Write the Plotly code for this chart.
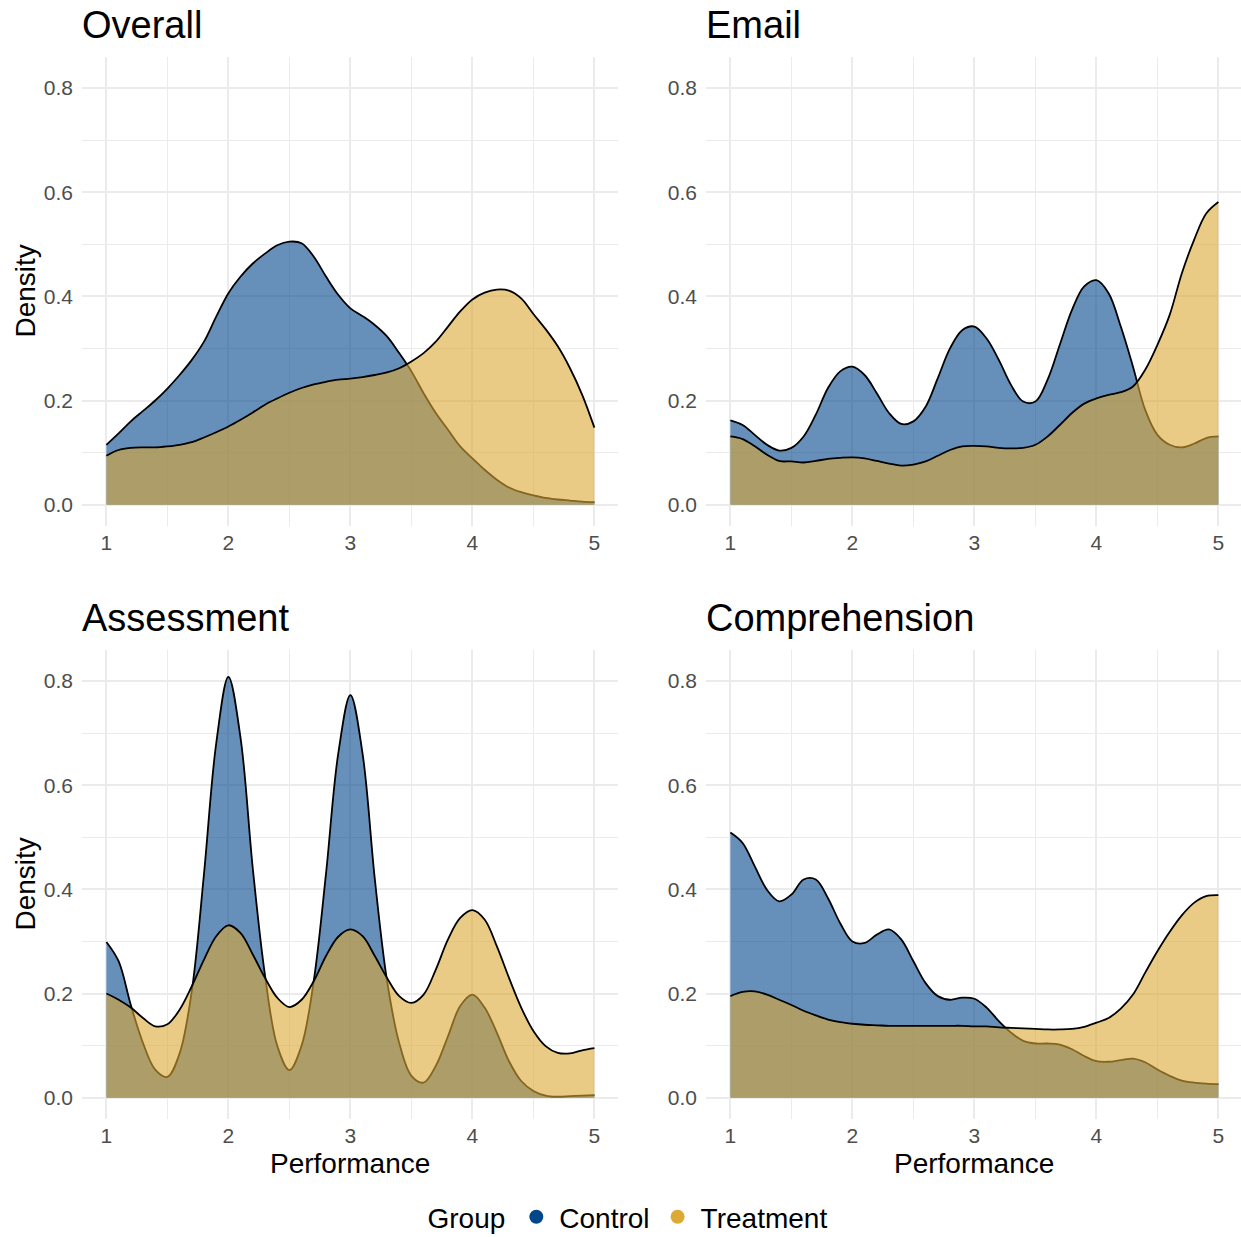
import plotly.graph_objects as go

# ---------------- data ----------------
performance = [1.0, 1.1, 1.2, 1.3, 1.4, 1.5, 1.6, 1.7, 1.8, 1.9,
               2.0, 2.1, 2.2, 2.3, 2.4, 2.5, 2.6, 2.7, 2.8, 2.9,
               3.0, 3.1, 3.2, 3.3, 3.4, 3.5, 3.6, 3.7, 3.8, 3.9,
               4.0, 4.1, 4.2, 4.3, 4.4, 4.5, 4.6, 4.7, 4.8, 4.9, 5.0]

overall_control = [0.115, 0.137, 0.160, 0.180, 0.200, 0.223, 0.249, 0.278, 0.313, 0.361,
                   0.406, 0.438, 0.463, 0.482, 0.498, 0.505, 0.502, 0.476, 0.438, 0.403,
                   0.377, 0.362, 0.345, 0.323, 0.291, 0.256, 0.214, 0.176, 0.144, 0.112,
                   0.089, 0.067, 0.048, 0.033, 0.024, 0.018, 0.013, 0.010, 0.008, 0.006, 0.005]
overall_treatment = [0.094, 0.105, 0.109, 0.110, 0.110, 0.112, 0.115, 0.120, 0.129, 0.139,
                     0.150, 0.163, 0.177, 0.192, 0.204, 0.215, 0.224, 0.231, 0.236, 0.240,
                     0.242, 0.245, 0.249, 0.254, 0.262, 0.275, 0.291, 0.313, 0.342, 0.371,
                     0.394, 0.407, 0.413, 0.411, 0.396, 0.366, 0.337, 0.304, 0.262, 0.211, 0.148]

email_control = [0.162, 0.153, 0.134, 0.115, 0.104, 0.109, 0.131, 0.173, 0.224, 0.256,
                 0.265, 0.249, 0.214, 0.176, 0.155, 0.160, 0.188, 0.243, 0.300, 0.335,
                 0.342, 0.319, 0.278, 0.230, 0.198, 0.198, 0.240, 0.307, 0.374, 0.419,
                 0.431, 0.406, 0.342, 0.265, 0.182, 0.134, 0.115, 0.110, 0.117, 0.128, 0.131]
email_treatment = [0.131, 0.126, 0.112, 0.096, 0.084, 0.083, 0.081, 0.084, 0.088, 0.090,
                   0.091, 0.089, 0.084, 0.079, 0.075, 0.077, 0.083, 0.094, 0.105, 0.112,
                   0.113, 0.112, 0.109, 0.108, 0.109, 0.115, 0.131, 0.153, 0.176, 0.194,
                   0.204, 0.211, 0.216, 0.227, 0.259, 0.307, 0.364, 0.444, 0.508, 0.559, 0.581]

assessment_control = [0.299, 0.262, 0.178, 0.105, 0.054, 0.040, 0.085, 0.205, 0.430, 0.680,
                      0.808, 0.690, 0.440, 0.235, 0.100, 0.053, 0.100, 0.225, 0.430, 0.660,
                      0.773, 0.660, 0.420, 0.225, 0.105, 0.042, 0.029, 0.061, 0.118, 0.176,
                      0.198, 0.173, 0.125, 0.070, 0.032, 0.013, 0.004, 0.002, 0.003, 0.004, 0.005]
assessment_treatment = [0.200, 0.188, 0.173, 0.153, 0.137, 0.141, 0.169, 0.214, 0.265, 0.310,
                        0.331, 0.316, 0.275, 0.230, 0.192, 0.174, 0.188, 0.224, 0.272, 0.309,
                        0.323, 0.310, 0.272, 0.230, 0.195, 0.182, 0.198, 0.246, 0.304, 0.345,
                        0.360, 0.342, 0.291, 0.230, 0.173, 0.128, 0.099, 0.086, 0.085, 0.091, 0.095]

comprehension_control = [0.509, 0.489, 0.444, 0.399, 0.377, 0.390, 0.419, 0.419, 0.383, 0.335,
                         0.300, 0.297, 0.313, 0.323, 0.304, 0.262, 0.220, 0.195, 0.188, 0.192,
                         0.190, 0.173, 0.147, 0.125, 0.109, 0.104, 0.104, 0.102, 0.093, 0.080,
                         0.070, 0.069, 0.072, 0.075, 0.068, 0.054, 0.042, 0.033, 0.029, 0.027, 0.026]
comprehension_treatment = [0.195, 0.203, 0.204, 0.198, 0.188, 0.178, 0.167, 0.158, 0.150, 0.145,
                           0.142, 0.140, 0.139, 0.138, 0.138, 0.138, 0.138, 0.138, 0.138, 0.138,
                           0.137, 0.137, 0.135, 0.134, 0.133, 0.132, 0.131, 0.131, 0.132, 0.136,
                           0.144, 0.153, 0.171, 0.198, 0.240, 0.281, 0.318, 0.350, 0.374, 0.387, 0.389]

panel_titles = ["Overall", "Email", "Assessment", "Comprehension"]
group_names = ["Control", "Treatment"]
x_ticks = [1, 2, 3, 4, 5]
y_ticks = [0.0, 0.2, 0.4, 0.6, 0.8]

# ---------------- styling ----------------
W, H = 1241, 1237
FONT = "Liberation Sans, Arial, Helvetica, sans-serif"
COL_CONTROL = "#00468B"
COL_TREAT = "#DCA934"
FILL_CONTROL = "rgba(0,70,139,0.6)"
FILL_TREAT = "rgba(220,169,52,0.6)"
GRID = "#EBEBEB"


def fx(p):
    return p / W


def fy(p):
    return 1 - p / H


panels = [
    (panel_titles[0], overall_control, overall_treatment),
    (panel_titles[1], email_control, email_treatment),
    (panel_titles[2], assessment_control, assessment_treatment),
    (panel_titles[3], comprehension_control, comprehension_treatment),
]

# pixel boxes of the four panels
col_px = [(82, 618), (706, 1241)]
row_px = [(57, 526), (650, 1119)]
x_unit_px = 122.0
y_range = [-0.0409, 0.8595]

fig = go.Figure()
layout = dict()
annotations = []
line_style = dict(color="black", width=1.8, shape="spline", smoothing=1.0)

for i, (title, ctrl, trt) in enumerate(panels):
    r, c = divmod(i, 2)
    n = "" if i == 0 else str(i + 1)
    xa, ya = "x" + n, "y" + n
    l, rr = col_px[c]
    t, b = row_px[r]
    x_lo = 0.8
    x_hi = x_lo + (rr - l) / x_unit_px

    fig.add_trace(go.Scatter(
        x=performance, y=ctrl, mode="lines", line=line_style,
        fill="tozeroy", fillcolor=FILL_CONTROL, showlegend=False, hoverinfo="skip",
        xaxis=xa, yaxis=ya))
    fig.add_trace(go.Scatter(
        x=performance, y=trt, mode="lines", line=line_style,
        fill="tozeroy", fillcolor=FILL_TREAT, showlegend=False, hoverinfo="skip",
        xaxis=xa, yaxis=ya))

    layout["xaxis" + n] = dict(
        domain=[fx(l), min(1.0, fx(rr))], anchor=ya, range=[x_lo, x_hi],
        tickmode="array", tickvals=x_ticks, ticktext=[str(v) for v in x_ticks],
        showgrid=True, gridcolor=GRID, gridwidth=2, zeroline=False, showline=False,
        ticks="", ticklabelstandoff=2, automargin=False,
        tickfont=dict(family=FONT, size=21, color="#4D4D4D"),
        minor=dict(tickmode="array", tickvals=[1.5, 2.5, 3.5, 4.5], showgrid=True,
                   gridcolor=GRID, gridwidth=1),
    )
    layout["yaxis" + n] = dict(
        domain=[fy(b), fy(t)], anchor=xa, range=y_range,
        tickmode="array", tickvals=y_ticks, ticktext=["%.1f" % v for v in y_ticks],
        showgrid=True, gridcolor=GRID, gridwidth=2, zeroline=False, showline=False,
        ticks="", ticklabelstandoff=8, automargin=False,
        tickfont=dict(family=FONT, size=21, color="#4D4D4D"),
        minor=dict(tickmode="array", tickvals=[0.1, 0.3, 0.5, 0.7], showgrid=True,
                   gridcolor=GRID, gridwidth=1),
    )

    # panel title
    annotations.append(dict(
        text=title, x=fx(l - 2), y=fy(t - 32), xref="paper", yref="paper",
        xanchor="left", yanchor="middle", showarrow=False,
        font=dict(family=FONT, size=38, color="black")))
    # y axis title (left column only)
    if c == 0:
        annotations.append(dict(
            text="Density", x=fx(25), y=fy((t + b) / 2), xref="paper", yref="paper",
            xanchor="center", yanchor="middle", textangle=-90, showarrow=False,
            font=dict(family=FONT, size=28, color="black")))
    # x axis title (bottom row only)
    if r == 1:
        annotations.append(dict(
            text="Performance", x=fx((l + min(rr, 1242)) / 2), y=fy(1163), xref="paper", yref="paper",
            xanchor="center", yanchor="middle", showarrow=False,
            font=dict(family=FONT, size=28, color="black")))

# legend entries (dots)
for name, col in zip(group_names, [COL_CONTROL, COL_TREAT]):
    fig.add_trace(go.Scatter(
        x=[None], y=[None], mode="markers", name=name,
        marker=dict(color=col, size=14, symbol="circle"),
        showlegend=True, xaxis="x", yaxis="y"))

fig.update_layout(
    width=W, height=H, autosize=False,
    margin=dict(l=0, r=0, t=0, b=0, autoexpand=False),
    paper_bgcolor="white", plot_bgcolor="white",
    annotations=annotations,
    showlegend=True,
    legend=dict(orientation="h", x=fx(629), xanchor="center", y=fy(1217), yanchor="middle",
                title=dict(text="Group", side="left", font=dict(family=FONT, size=28, color="black")),
                font=dict(family=FONT, size=28, color="black"),
                itemwidth=36, bgcolor="rgba(0,0,0,0)"),
    **layout,
)

# remove the browser's default page margin so the figure fills the window exactly
fig.write_html("out.html", config={"displayModeBar": False},
               post_script="document.body.style.margin='0px';document.body.style.overflow='hidden';")
